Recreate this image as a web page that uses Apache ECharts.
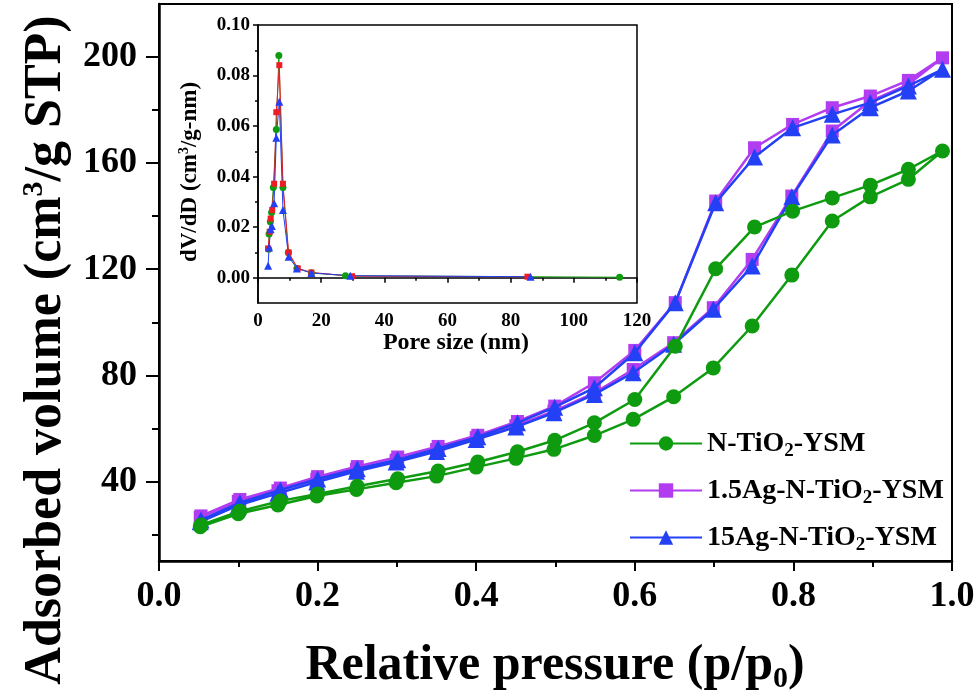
<!DOCTYPE html>
<html>
<head>
<meta charset="utf-8">
<script src="https://cdn.jsdelivr.net/npm/echarts@6/dist/echarts.min.js"></script>
<style>
  html, body { margin: 0; padding: 0; background: #fff; }
  #chart { width: 979px; height: 698px; }
</style>
</head>
<body>
<div id="chart"></div>
<script>
// relative pressure points (adsorption goes up, desorption comes back down)
const pAds = [0.052, 0.100, 0.150, 0.199, 0.249, 0.299, 0.350, 0.400, 0.450, 0.498, 0.549, 0.598, 0.649, 0.699, 0.748, 0.798, 0.849, 0.897, 0.945, 0.988];
const pDes = [0.945, 0.897, 0.849, 0.799, 0.751, 0.702, 0.651, 0.600, 0.549, 0.499, 0.452, 0.402, 0.352, 0.301, 0.250, 0.200, 0.153, 0.102, 0.053];

const nTiO2Ads = [22.9, 27.8, 31.1, 34.5, 37.0, 39.5, 42.0, 45.4, 48.7, 52.1, 57.3, 63.4, 71.9, 82.8, 98.6, 117.8, 138.2, 147.3, 153.9, 164.6];
const nTiO2Des = [157.7, 151.7, 146.9, 141.9, 135.9, 120.2, 91.0, 70.9, 62.1, 55.5, 51.2, 47.3, 43.9, 41.0, 38.2, 35.3, 32.6, 28.8, 23.6];
const ag15Ads = [26.5, 32.5, 36.5, 40.8, 44.5, 48.0, 52.0, 56.5, 61.0, 66.5, 73.4, 82.2, 92.3, 105.5, 123.7, 147.6, 172.1, 183.4, 189.7, 199.7];
const ag15Des = [191.2, 185.3, 180.9, 174.6, 165.8, 145.7, 107.4, 89.4, 77.2, 68.4, 62.6, 57.4, 53.2, 49.2, 45.6, 41.8, 37.5, 33.2, 27.0];
const ag150Ads = [24.8, 31.0, 35.5, 39.8, 43.8, 47.3, 51.3, 55.8, 60.5, 65.9, 72.8, 81.0, 91.7, 104.9, 121.2, 147.3, 170.6, 180.9, 187.2, 195.4];
const ag150Des = [189.1, 182.8, 178.4, 173.3, 162.3, 145.1, 107.4, 88.5, 75.3, 68.0, 62.1, 56.8, 52.4, 48.2, 44.8, 40.9, 36.8, 32.0, 25.5];

// inset: pore size distribution
const poreGreen = [3.4, 3.5, 3.9, 4.3, 4.85, 5.8, 6.6, 7.9, 9.6, 12.3, 16.9, 27.7, 114.5];
const dvGreen = [0.0113, 0.0173, 0.0221, 0.0258, 0.0357, 0.0587, 0.0879, 0.0357, 0.0100, 0.0037, 0.0019, 0.0008, 0.0002];
const poreRed = [3.2, 3.7, 4.0, 4.5, 5.1, 5.8, 6.75, 7.9, 9.7, 12.6, 16.9, 29.8, 85.3];
const dvRed = [0.0116, 0.0182, 0.0234, 0.0268, 0.0372, 0.0655, 0.0841, 0.0372, 0.0100, 0.0037, 0.0021, 0.0006, 0.0004];
const poreBlue = [3.2, 3.5, 4.0, 4.4, 5.1, 5.8, 6.75, 7.9, 9.7, 12.3, 16.9, 29.2, 86.3];
const dvBlue = [0.0047, 0.0120, 0.0192, 0.0205, 0.0295, 0.0554, 0.0696, 0.0268, 0.0083, 0.0037, 0.0019, 0.0008, 0.0004];

const yLabels = [40, 80, 120, 160, 200];
const yMinor = [20, 60, 100, 140, 180];
const insetYLabels = [0, 0.02, 0.04, 0.06, 0.08, 0.1];
const insetYMinor = [0.01, 0.03, 0.05, 0.07, 0.09];

const GREEN = '#0f9b0f';
const PURPLE = '#b23cf0';
const BLUE = '#2340f5';
const RED = '#ee1c24';
const FONT = "'Times New Roman', 'Liberation Serif', serif";

function loop(ads, des) {
  const pts = ads.map((v, i) => [pAds[i], v]);
  return pts.concat(des.map((v, i) => [pDes[i], v]));
}
function pairs(xs, ys) {
  return xs.map((x, i) => [x, ys[i]]);
}

const labelStyle = (size) => ({ fontFamily: FONT, fontWeight: 'bold', fontSize: size, color: '#000' });
const sub = { fontFamily: FONT, fontWeight: 'bold', fontSize: 19, padding: [16, 0, 0, 0], lineHeight: 19, color: '#000' };

function mainLine(name, data, color, symbol, size, z) {
  return {
    name, type: 'line', data, xAxisIndex: 0, yAxisIndex: 0,
    symbol, symbolSize: size, z,
    lineStyle: { color, width: 2.5 },
    itemStyle: { color, borderWidth: 0 },
  };
}
function insetLine(name, data, color, symbol, size) {
  return {
    name, type: 'line', data, xAxisIndex: 1, yAxisIndex: 2,
    symbol, symbolSize: size,
    lineStyle: { color, width: 1 },
    itemStyle: { color, borderWidth: 0 },
  };
}

const chart = echarts.init(document.getElementById('chart'));
chart.setOption({
  animation: false,
  backgroundColor: '#fff',
  grid: [
    { left: 159, top: 4, right: 27, bottom: 137, show: true, borderColor: '#000', borderWidth: 2 },
    { left: 258, top: 25, width: 379, height: 278, show: true, borderColor: '#000', borderWidth: 1.5, backgroundColor: '#fff' },
  ],
  legend: {
    data: ['N-TiO2-YSM', '1.5Ag-N-TiO2-YSM', '15Ag-N-TiO2-YSM'],
    orient: 'vertical',
    left: 624,
    top: 421,
    itemWidth: 72,
    itemHeight: 18,
    itemGap: 12,
    formatter: (name) => name.replace('O2', 'O{sub|2}'),
    textStyle: Object.assign(labelStyle(28), { rich: { sub } }),
  },
  xAxis: [
    {
      gridIndex: 0, type: 'value', min: 0, max: 1, interval: 0.2,
      axisLine: { lineStyle: { color: '#000', width: 2.5 } },
      axisTick: { length: 10, lineStyle: { width: 2 } },
      minorTick: { show: true, splitNumber: 2, length: 6, lineStyle: { color: '#000', width: 2 } },
      splitLine: { show: false },
      axisLabel: Object.assign(labelStyle(36), { margin: 18, formatter: (v) => v.toFixed(1) }),
    },
    {
      gridIndex: 1, type: 'value', min: 0, max: 120, interval: 20,
      axisLine: { lineStyle: { color: '#000', width: 1.5 } },
      axisTick: { length: 5, lineStyle: { width: 1.5 } },
      minorTick: { show: true, splitNumber: 2, length: 3, lineStyle: { color: '#000', width: 1.5 } },
      splitLine: { show: false },
      axisLabel: Object.assign(labelStyle(19), { margin: 9 }),
    },
  ],
  yAxis: [
    {
      gridIndex: 0, type: 'value', position: 'left', min: 10, max: 220,
      axisLine: { show: true, lineStyle: { color: '#000', width: 2.5 } },
      axisTick: { show: true, length: 13, customValues: yLabels, lineStyle: { width: 2 } },
      splitLine: { show: false },
      axisLabel: Object.assign(labelStyle(36), { margin: 22, customValues: yLabels }),
    },
    {
      // minor ticks of the main y axis
      gridIndex: 0, type: 'value', position: 'left', min: 10, max: 220,
      axisLine: { show: false },
      axisTick: { show: true, length: 7, customValues: yMinor, lineStyle: { color: '#000', width: 2 } },
      splitLine: { show: false },
      axisLabel: { show: false },
    },
    {
      gridIndex: 1, type: 'value', position: 'left', min: -0.01, max: 0.1,
      axisLine: { show: true, lineStyle: { color: '#000', width: 1.5 } },
      axisTick: { show: true, length: 5, customValues: insetYLabels, lineStyle: { width: 1.5 } },
      splitLine: { show: false },
      axisLabel: Object.assign(labelStyle(19), { margin: 8, customValues: insetYLabels, formatter: (v) => v.toFixed(2) }),
    },
    {
      gridIndex: 1, type: 'value', position: 'left', min: -0.01, max: 0.1,
      axisLine: { show: false },
      axisTick: { show: true, length: 3, customValues: insetYMinor, lineStyle: { color: '#000', width: 1.5 } },
      splitLine: { show: false },
      axisLabel: { show: false },
    },
  ],
  graphic: [
    {
      type: 'text', x: 555, y: 666,
      style: {
        text: 'Relative pressure (p/p{s|0})',
        font: 'bold 50px ' + FONT, align: 'center', verticalAlign: 'middle', fill: '#000',
        rich: { s: { font: 'bold 30px ' + FONT, padding: [26, 0, 0, 0], lineHeight: 30, fill: '#000' } },
      },
    },
    {
      type: 'text', x: 47, y: 350, rotation: Math.PI / 2,
      style: {
        text: 'Adsorbed volume (cm{s|3}/g STP)',
        font: 'bold 52px ' + FONT, align: 'center', verticalAlign: 'middle', fill: '#000',
        rich: { s: { font: 'bold 30px ' + FONT, padding: [0, 0, 26, 0], lineHeight: 30, fill: '#000' } },
      },
    },
    {
      type: 'text', x: 456, y: 343,
      style: { text: 'Pore size (nm)', font: 'bold 24px ' + FONT, align: 'center', verticalAlign: 'middle', fill: '#000' },
    },
    {
      type: 'text', x: 190, y: 172, rotation: Math.PI / 2,
      style: {
        text: 'dV/dD (cm{s|3}/g-nm)',
        font: 'bold 23px ' + FONT, align: 'center', verticalAlign: 'middle', fill: '#000',
        rich: { s: { font: 'bold 14px ' + FONT, padding: [0, 0, 12, 0], lineHeight: 14, fill: '#000' } },
      },
    },
  ],
  series: [
    mainLine('1.5Ag-N-TiO2-YSM', loop(ag15Ads, ag15Des), PURPLE, 'rect', 13, 2),
    mainLine('15Ag-N-TiO2-YSM', loop(ag150Ads, ag150Des), BLUE, 'triangle', 17, 3),
    mainLine('N-TiO2-YSM', loop(nTiO2Ads, nTiO2Des), GREEN, 'circle', 15, 4),
    insetLine('psd-green', pairs(poreGreen, dvGreen), GREEN, 'circle', 7),
    insetLine('psd-red', pairs(poreRed, dvRed), RED, 'rect', 6),
    insetLine('psd-blue', pairs(poreBlue, dvBlue), BLUE, 'triangle', 8),
  ],
});
</script>
</body>
</html>
